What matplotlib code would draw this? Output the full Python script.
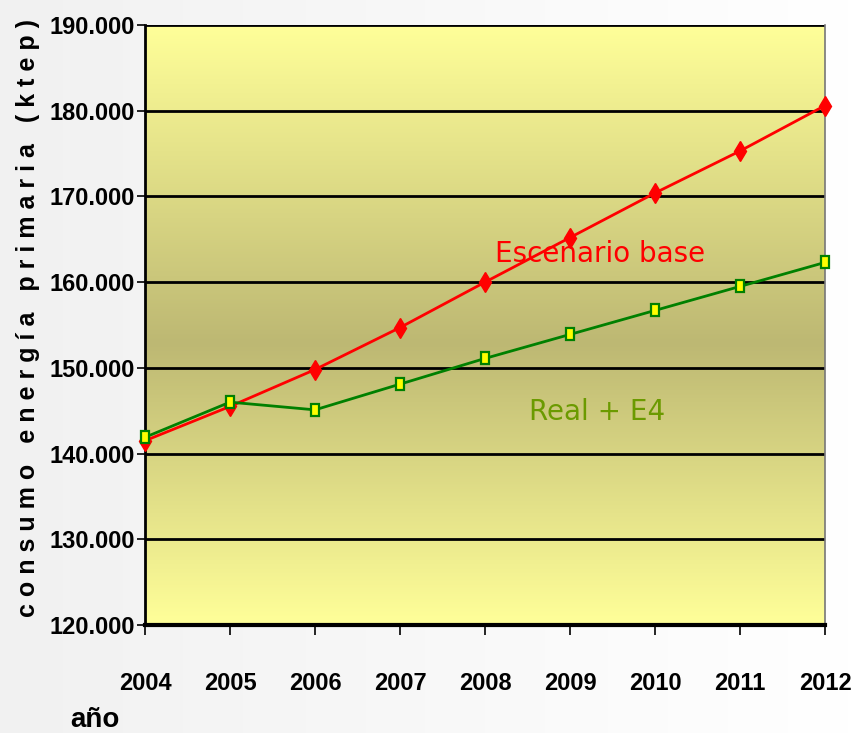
import numpy as np
import matplotlib
matplotlib.use("Agg")
import matplotlib.pyplot as plt
from matplotlib.markers import MarkerStyle
from matplotlib.transforms import Affine2D
from matplotlib.colors import LinearSegmentedColormap

# -----------------------------
# Data (ktep)
# -----------------------------
years = [2004, 2005, 2006, 2007, 2008, 2009, 2010, 2011, 2012]
escenario_base = [141500, 145500, 149800, 154700, 160000, 165200, 170400, 175300, 180600]
real_e4 = [141900, 146000, 145100, 148100, 151100, 153900, 156700, 159500, 162300]
y_ticks = [120000, 130000, 140000, 150000, 160000, 170000, 180000, 190000]
y_tick_labels = ["120.000", "130.000", "140.000", "150.000",
                 "160.000", "170.000", "180.000", "190.000"]

NARROW = ["Liberation Sans", "DejaVu Sans"]

fig = plt.figure(figsize=(8.51, 7.33), dpi=100)

# light gray page background
bg = fig.add_axes([0, 0, 1, 1], zorder=-10)
bg.imshow(np.linspace(0, 1, 256).reshape(1, -1), aspect="auto",
          cmap=LinearSegmentedColormap.from_list("pg", ["#f1f1f1", "#ffffff"]),
          extent=[0, 1, 0, 1])
bg.axis("off")

ax = fig.add_axes([145 / 851, 108 / 733, 680 / 851, 600 / 733])
ax.set_xlim(2004, 2012)
ax.set_ylim(120000, 190000)

# plot-area gradient: yellow -> olive -> yellow
grad = LinearSegmentedColormap.from_list(
    "plot", [(0.0, "#ffff99"), (0.47, "#bdb873"), (1.0, "#ffff99")])
ax.imshow(np.linspace(0, 1, 256).reshape(-1, 1), aspect="auto", cmap=grad,
          extent=[2004, 2012, 120000, 190000], origin="lower", zorder=0)

for y in y_ticks[1:]:
    ax.axhline(y, color="black", lw=2, zorder=1)

ax.plot(years, escenario_base, color="red", lw=2, marker="d", markersize=10,
        markerfacecolor="red", markeredgecolor="red", zorder=3, clip_on=False)

sq = MarkerStyle("s", transform=Affine2D().scale(0.72, 1.0))
ax.plot(years, real_e4, color="#008000", lw=2, marker=sq, markersize=8.5,
        markerfacecolor="#ffff00", markeredgecolor="#008000", markeredgewidth=1.6,
        zorder=4, clip_on=False)

ax.text(2009.35, 163300, "Escenario base", color="red", fontsize=20,
        ha="center", va="center", zorder=5)
ax.text(2009.32, 144800, "Real + E4", color="#6b9a00", fontsize=20,
        ha="center", va="center", zorder=5)

ax.set_xticks(years)
ax.set_xticklabels([str(y) for y in years], fontfamily=NARROW,
                   fontweight="bold", fontsize=17)
ax.set_yticks(y_ticks)
ax.set_yticklabels(y_tick_labels, fontfamily=NARROW, fontweight="bold", fontsize=17)
ax.tick_params(axis="x", length=7, width=1.2, pad=27, color="black")
ax.tick_params(axis="y", length=6, width=1.2, pad=1, color="black")

ax.spines["top"].set_visible(False)
ax.spines["left"].set_linewidth(2)
ax.spines["bottom"].set_linewidth(3)
ax.spines["right"].set_color("#777777")
ax.spines["right"].set_linewidth(1.2)

ylabel = "c o n s u m o   e n e r g í a   p r i m a r i a   ( k t e p )"
fig.text(28 / 851, 1 - 318 / 733, ylabel, rotation=90, ha="center", va="center",
         fontfamily=NARROW, fontweight="bold", fontsize=18)
fig.text(95 / 851, 1 - 720 / 733, "año", ha="center", va="center",
         fontfamily=NARROW, fontweight="bold", fontsize=20)

fig.savefig("out.png", dpi=100)
